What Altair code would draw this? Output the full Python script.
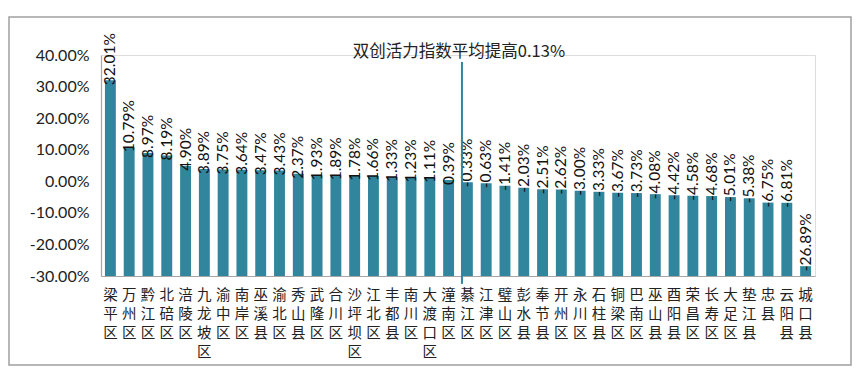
import altair as alt
import pandas as pd

categories = ["梁平区", "万州区", "黔江区", "北碚区", "涪陵区", "九龙坡区", "渝中区", "南岸区",
              "巫溪县", "渝北区", "秀山县", "武隆区", "合川区", "沙坪坝区", "江北区", "丰都县",
              "南川区", "大渡口区", "潼南区", "綦江区", "江津区", "璧山区", "彭水县", "奉节县",
              "开州区", "永川区", "石柱县", "铜梁区", "巴南区", "巫山县", "酉阳县", "荣昌区",
              "长寿区", "大足区", "垫江县", "忠县", "云阳县", "城口县"]
values_pct = [32.01, 10.79, 8.97, 8.19, 4.90, 3.89, 3.75, 3.64,
              3.47, 3.43, 2.37, 1.93, 1.89, 1.78, 1.66, 1.33,
              1.23, 1.11, 0.39, -0.33, -0.63, -1.41, -2.03, -2.51,
              -2.62, -3.00, -3.33, -3.67, -3.73, -4.08, -4.42, -4.58,
              -4.68, -5.01, -5.38, -6.75, -6.81, -26.89]
y_ticks = [-0.30, -0.20, -0.10, 0.0, 0.10, 0.20, 0.30, 0.40]
axis_min = -0.30
axis_max = 0.40
avg_label = "双创活力指数平均提高0.13%"
avg_category = "綦江区"
line_top = 0.378
line_bottom = -0.325

BAR = "#31859C"
NUM_FONT = "Lato"
CJK_FONT = "Noto Sans CJK SC"

df = pd.DataFrame({
    "cat": categories,
    "value": [v / 100 for v in values_pct],
    "label": [f"{v:.2f}%" for v in values_pct],
    "base": [axis_min] * len(categories),
})
ann = pd.DataFrame({"cat": [avg_category], "top": [line_top], "bot": [line_bottom],
                    "ty": [axis_max], "text": [avg_label]})

xscale = alt.Scale(domain=categories, paddingInner=0.42, paddingOuter=0.21)
yscale = alt.Scale(domain=[axis_min, axis_max], nice=False, zero=False)

xaxis = alt.Axis(labelAngle=0, labelExpr="split(datum.label, '')",
                 labelFont=CJK_FONT, labelFontSize=14.5, labelLineHeight=19,
                 labelColor="#222", labelPadding=12, labelAlign="center",
                 labelBaseline="top", ticks=False, domainColor="#a6a6a6",
                 domainWidth=1.2, labelOverlap=False, title=None)

yaxis = alt.Axis(values=y_ticks,
                 labelExpr="replace(format(datum.value, '.2%'), '−', '-')",
                 labelFont=NUM_FONT, labelFontSize=16, labelColor="#222",
                 labelPadding=12, ticks=False, grid=False, labelOverlap=False,
                 labelBound=False, labelFlush=False, title=None,
                 domainColor="#a6a6a6", domainWidth=1.2)


def xenc(**kw):
    return alt.X("cat:N", sort=categories, scale=xscale, axis=xaxis, title=None, **kw)


def yenc(field):
    return alt.Y(field, scale=yscale, axis=yaxis, title=None)


frame = alt.Chart(pd.DataFrame({"a": [0]})).mark_rect(
    fill="transparent", fillOpacity=0, stroke="#a0a0a0", strokeWidth=1.5, clip=False
).encode(x=alt.value(-92), x2=alt.value(750), y=alt.value(-38), y2=alt.value(310))

bars = alt.Chart(df).mark_bar(color=BAR).encode(
    x=xenc(),
    y=yenc("value:Q"),
    y2="base:Q",
)

labels = alt.Chart(df).mark_text(
    angle=270, align="left", baseline="middle", dx=-5,
    font=NUM_FONT, fontSize=15.5, color="#111"
).encode(
    x=xenc(),
    y=yenc("value:Q"),
    text="label:N",
)

rule = alt.Chart(ann).mark_rule(color=BAR, strokeWidth=2, clip=False).encode(
    x=xenc(bandPosition=0),
    y=yenc("top:Q"),
    y2="bot:Q",
)

note = alt.Chart(ann).mark_text(
    align="center", baseline="alphabetic", dy=2, dx=-3,
    font=CJK_FONT, fontSize=16.5, color="#222"
).encode(
    x=xenc(bandPosition=0),
    y=yenc("ty:Q"),
    text="text:N",
)

chart = alt.layer(bars, labels, rule, note, frame).properties(
    width=714, height=221,
    autosize=alt.AutoSizeParams(type="none"),
    padding={"left": 93, "top": 47, "right": 40, "bottom": 90},
).configure_view(stroke=None).configure_axisY(labelOverlap=False).configure(background="white")

chart.save("out.html", embed_options={"renderer": "svg", "actions": False})
